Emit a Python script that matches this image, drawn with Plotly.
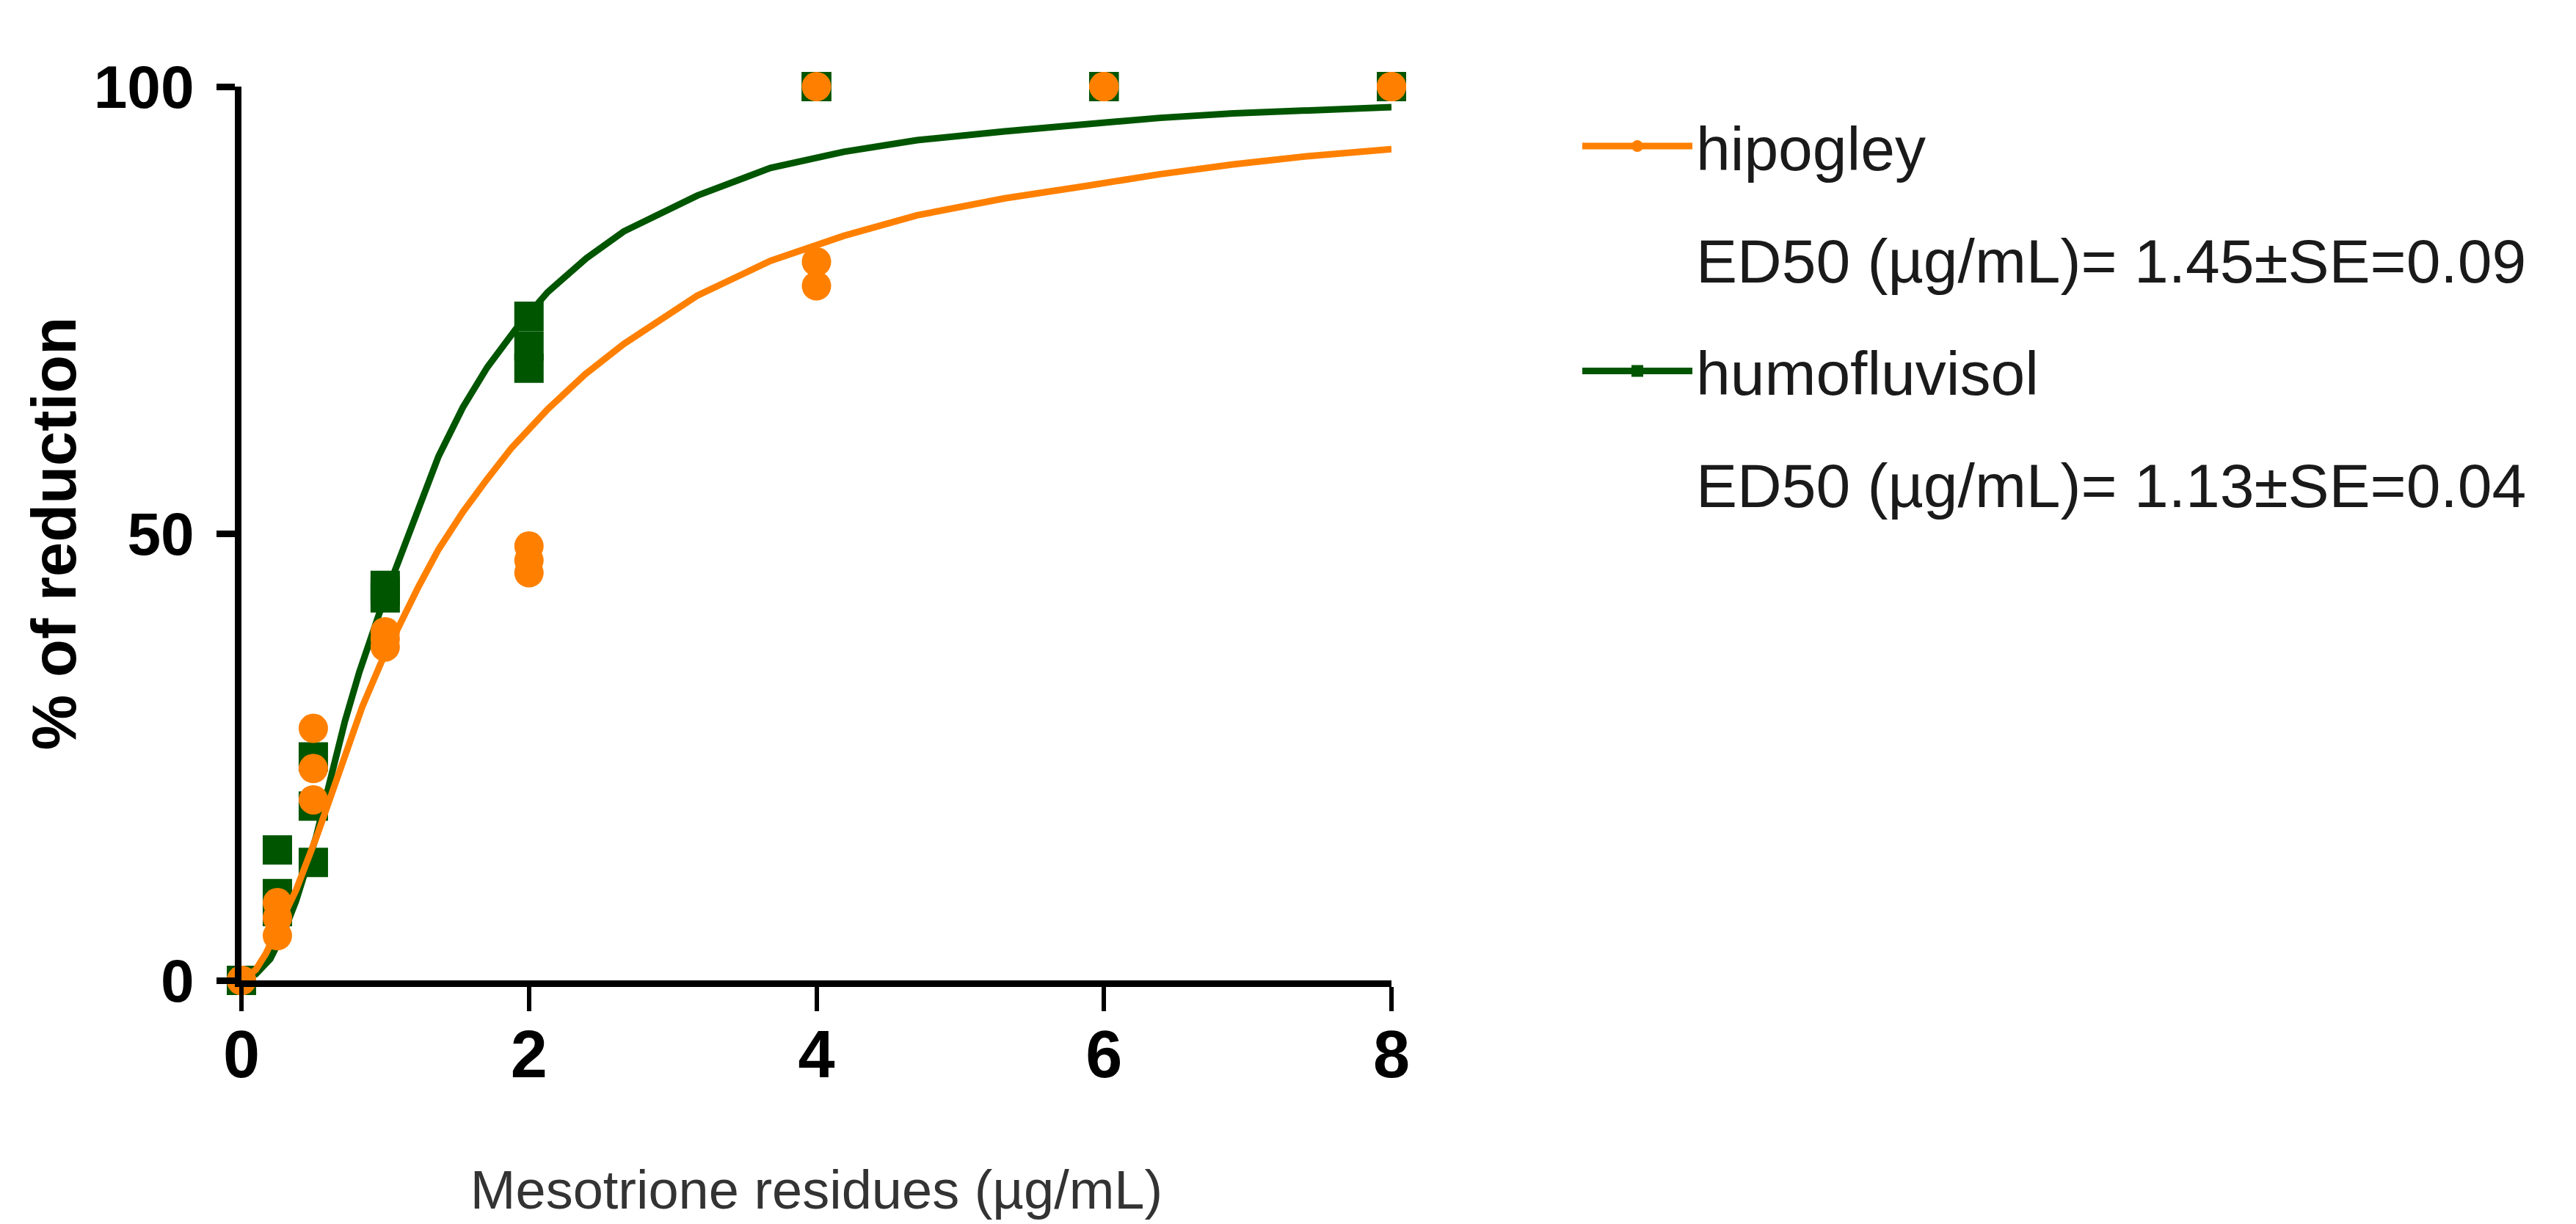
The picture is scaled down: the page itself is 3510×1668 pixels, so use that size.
import plotly.graph_objects as go

# ---------------- data ----------------
doses = [0, 0, 0, 0.25, 0.25, 0.25, 0.5, 0.5, 0.5, 1, 1, 1,
         2, 2, 2, 4, 4, 4, 6, 6, 6, 8, 8, 8]

hipogley_reduction = [0, 0, 0, 5.0, 7.0, 8.7, 20.2, 23.7, 28.2, 37.3, 38.2, 39.0,
                      45.6, 47.0, 48.6, 77.7, 80.4, 100, 100, 100, 100, 100, 100, 100]
humofluvisol_reduction = [0, 0, 0, 7.7, 9.7, 14.6, 13.2, 19.5, 25.0, 42.8, 43.5, 44.2,
                          68.5, 71.0, 74.3, 100, 100, 100, 100, 100, 100, 100, 100, 100]

# fitted dose-response curves
hipogley_fit_x = [0, 0.1, 0.17, 0.25, 0.38, 0.53, 0.69, 0.84, 0.97, 1.1, 1.23, 1.37, 1.54,
                  1.71, 1.88, 2.13, 2.39, 2.66, 3.17, 3.68, 4.19, 4.70, 5.31, 5.88,
                  6.39, 6.90, 7.41, 8.0]
hipogley_fit_y = [0, 1.2, 3.0, 5.6, 10.1, 16.4, 24.0, 30.6, 35.5, 39.8, 44.0, 48.2, 52.4,
                  56.1, 59.6, 63.9, 67.8, 71.2, 76.6, 80.5, 83.3, 85.6, 87.5, 88.9,
                  90.2, 91.3, 92.2, 93.0]
humofluvisol_fit_x = [0, 0.1, 0.2, 0.3, 0.38, 0.52, 0.63, 0.72, 0.82, 0.91, 1.0, 1.1, 1.23,
                      1.37, 1.54, 1.71, 1.91, 2.13, 2.4, 2.66, 3.17, 3.68, 4.19, 4.70,
                      5.31, 5.88, 6.39, 6.90, 7.41, 8.0]
humofluvisol_fit_y = [0, 0.7, 2.4, 5.6, 8.9, 16.1, 23.2, 29.0, 34.5, 38.9, 43.0, 47.2, 52.8,
                      58.6, 64.1, 68.6, 72.9, 77.0, 80.8, 83.8, 87.8, 90.9, 92.7, 94.0,
                      95.0, 95.8, 96.5, 97.0, 97.4, 97.7]

series_names = ["hipogley", "humofluvisol"]
ed50_labels = ["ED50 (µg/mL)= 1.45±SE=0.09", "ED50 (µg/mL)= 1.13±SE=0.04"]

x_tick_values = [0, 2, 4, 6, 8]
y_tick_values = [0, 50, 100]
x_title = "Mesotrione residues (µg/mL)"
y_title = "% of reduction"

# ---------------- styling ----------------
ORANGE = "#FF8000"
GREEN = "#005500"
SANS = "Liberation Sans, Arial, sans-serif"

fig = go.Figure()

# humofluvisol (drawn first, below)
fig.add_trace(go.Scatter(x=humofluvisol_fit_x, y=humofluvisol_fit_y, mode="lines",
                         line=dict(color=GREEN, width=9),
                         showlegend=False, hoverinfo="skip", cliponaxis=False))
fig.add_trace(go.Scatter(x=doses, y=humofluvisol_reduction, mode="markers",
                         marker=dict(symbol="square", size=40, color=GREEN),
                         showlegend=False, cliponaxis=False))
# hipogley (on top)
fig.add_trace(go.Scatter(x=hipogley_fit_x, y=hipogley_fit_y, mode="lines",
                         line=dict(color=ORANGE, width=9),
                         showlegend=False, hoverinfo="skip", cliponaxis=False))
fig.add_trace(go.Scatter(x=doses, y=hipogley_reduction, mode="markers",
                         marker=dict(symbol="circle", size=40, color=ORANGE),
                         showlegend=False, cliponaxis=False))

# legend entries
fig.add_trace(go.Scatter(x=[None], y=[None], mode="lines+markers", name=series_names[0],
                         line=dict(color=ORANGE, width=9),
                         marker=dict(symbol="circle", size=40, color=ORANGE),
                         legendgroup="g1", legendrank=1))
fig.add_trace(go.Scatter(x=[None], y=[None], mode="lines", name=ed50_labels[0],
                         line=dict(color="rgba(0,0,0,0)", width=1),
                         legendgroup="g2", legendrank=2))
fig.add_trace(go.Scatter(x=[None], y=[None], mode="lines+markers", name=series_names[1],
                         line=dict(color=GREEN, width=9),
                         marker=dict(symbol="square", size=40, color=GREEN),
                         legendgroup="g3", legendrank=3))
fig.add_trace(go.Scatter(x=[None], y=[None], mode="lines", name=ed50_labels[1],
                         line=dict(color="rgba(0,0,0,0)", width=1),
                         legendgroup="g4", legendrank=4))

fig.update_layout(
    width=3510, height=1668,
    paper_bgcolor="white", plot_bgcolor="white",
    margin=dict(l=329, r=1614, t=118, b=332, pad=0),
    showlegend=True,
    legend=dict(
        xref="container", yref="container",
        x=2151 / 3510, y=1 - 138 / 1668, xanchor="left", yanchor="top",
        font=dict(family=SANS, size=84, color="#1a1a1a"),
        itemwidth=150, tracegroupgap=41,
        bgcolor="rgba(0,0,0,0)", borderwidth=0,
    ),
    xaxis=dict(
        range=[0, 8], tickvals=x_tick_values, ticktext=[str(v) for v in x_tick_values],
        showline=True, linecolor="black", linewidth=9, mirror=False,
        ticks="outside", ticklen=33, tickwidth=6, tickcolor="black",
        showgrid=False, zeroline=False, ticklabelstandoff=-18,
        tickfont=dict(family=SANS, size=90, color="black", weight="bold"),
        title=dict(text=x_title, font=dict(family=SANS, size=74, color="#333333"),
                   standoff=113),
    ),
    yaxis=dict(
        range=[0, 100], tickvals=y_tick_values, ticktext=[str(v) for v in y_tick_values],
        showline=True, linecolor="black", linewidth=9, mirror=False,
        ticks="outside", ticklen=25, tickwidth=9, tickcolor="black",
        showgrid=False, zeroline=False, ticklabelstandoff=14,
        tickfont=dict(family=SANS, size=82, color="black", weight="bold"),
        title=dict(text=y_title, font=dict(family=SANS, size=85, color="black", weight="bold"),
                   standoff=0),
    ),
)

fig.write_html(
    "out.html",
    config={"displayModeBar": False},
    post_script="document.body.style.margin='0';document.body.style.overflow='hidden';",
)
